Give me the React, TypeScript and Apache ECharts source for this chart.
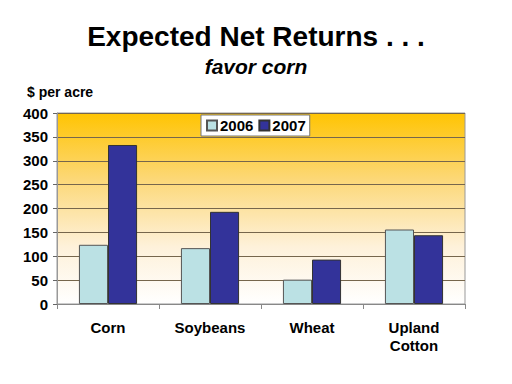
import React, { useEffect, useRef } from "react";
import * as echarts from "echarts";

const categories = ["Corn", "Soybeans", "Wheat", "Upland\nCotton"];
const series2006 = [124, 117, 51, 156];
const series2007 = [333, 193, 93, 144];
const seriesNames = ["2006", "2007"];

export default function App() {
  const ref = useRef<HTMLDivElement>(null);
  useEffect(() => {
    if (!ref.current) return;
    const chart = echarts.init(ref.current, undefined, { renderer: "svg" });
    const font = "Arial, 'Liberation Sans', sans-serif";
    chart.setOption({
      animation: false,
      backgroundColor: "#ffffff",
      title: [
        {
          text: "Expected Net Returns . . .",
          left: "center",
          top: 17,
          textStyle: { fontFamily: font, fontWeight: "bold", fontSize: 28, color: "#000" },
        },
        {
          text: "favor corn",
          left: "center",
          top: 51,
          textStyle: { fontFamily: font, fontWeight: "bold", fontStyle: "italic", fontSize: 21, color: "#000" },
        },
        {
          text: "$ per acre",
          left: 22,
          top: 80,
          textStyle: { fontFamily: font, fontWeight: "bold", fontSize: 14, color: "#000" },
        },
      ],
      legend: {
        data: seriesNames,
        left: 201,
        top: 115,
        orient: "horizontal",
        backgroundColor: "#ffffff",
        borderColor: "#777",
        borderWidth: 1,
        borderRadius: 0,
        padding: [3, 4, 3, 5],
        itemWidth: 10,
        itemHeight: 10,
        itemGap: 5,
        icon: "rect",
        textStyle: { fontFamily: font, fontWeight: "bold", fontSize: 15, color: "#000", padding: [0, 0, 0, -2] },
      },
      grid: {
        left: 57,
        right: 47,
        top: 113,
        bottom: 80,
        show: true,
        borderColor: "#999",
        borderWidth: 1,
        backgroundColor: new echarts.graphic.LinearGradient(0, 0, 0, 1, [
          { offset: 0, color: "#FFC402" },
          { offset: 0.35, color: "#FCD878" },
          { offset: 0.7, color: "#FEF1DA" },
          { offset: 1, color: "#FFFFFF" },
        ]),
      },
      xAxis: {
        type: "category",
        data: categories,
        axisLine: { show: true, lineStyle: { color: "#888", width: 1 } },
        axisTick: { show: true, length: 5, lineStyle: { color: "#888" } },
        axisLabel: {
          fontFamily: font,
          fontWeight: "bold",
          fontSize: 15,
          color: "#000",
          margin: 14,
          lineHeight: 18,
        },
      },
      yAxis: {
        type: "value",
        min: 0,
        max: 400,
        interval: 50,
        axisLine: { show: true, lineStyle: { color: "#999" } },
        axisTick: { show: true, length: 4, lineStyle: { color: "#666" } },
        splitLine: { show: true, lineStyle: { color: "#76664c", width: 1 } },
        axisLabel: {
          fontFamily: font,
          fontWeight: "bold",
          fontSize: 15,
          color: "#000",
          margin: 9,
        },
      },
      series: [
        {
          name: seriesNames[0],
          type: "bar",
          data: series2006,
          barGap: "0%",
          barCategoryGap: "43%",
          itemStyle: { color: "#BBE1E4", borderColor: "#555", borderWidth: 1 },
        },
        {
          name: seriesNames[1],
          type: "bar",
          data: series2007,
          itemStyle: { color: "#33339A", borderColor: "#333", borderWidth: 1 },
        },
      ],
    });
    return () => chart.dispose();
  }, []);
  return <div ref={ref} style={{ width: 512, height: 384, position: "absolute", left: 0, top: 0 }} />;
}
